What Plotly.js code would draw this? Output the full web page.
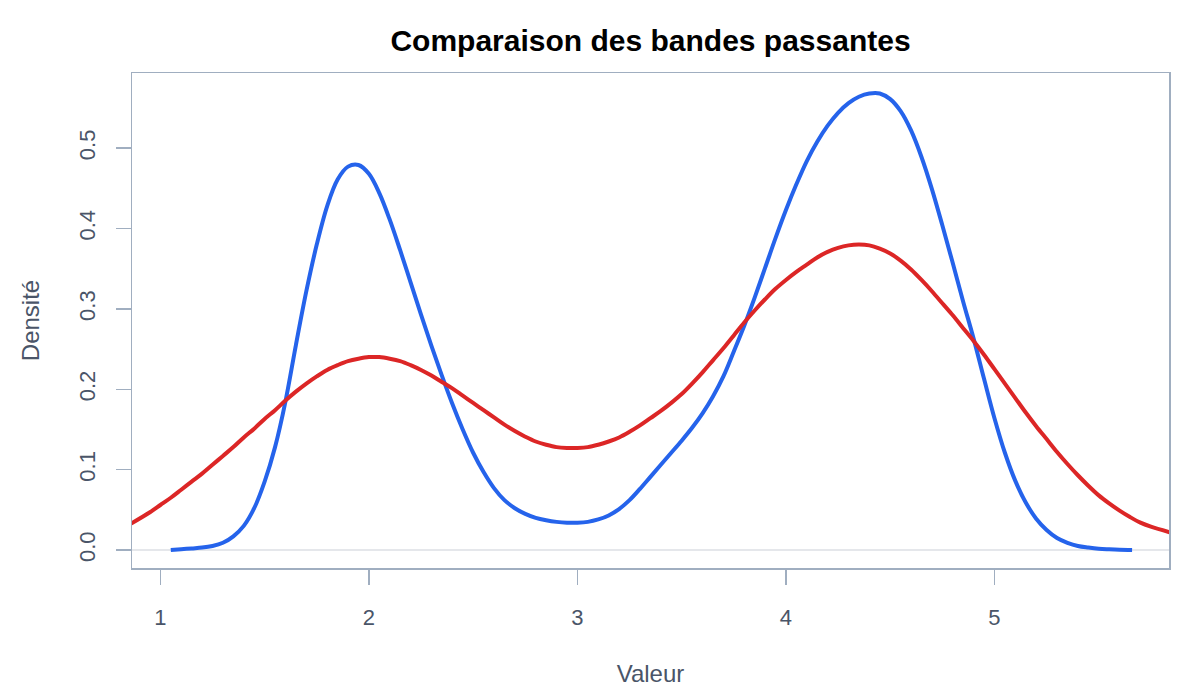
<!DOCTYPE html>
<html>
<head>
<meta charset="utf-8">
<script src="https://cdn.plot.ly/plotly-3.0.1.min.js"></script>
<style>html,body{margin:0;padding:0;background:#fff;}#chart{width:1200px;height:700px;}</style>
</head>
<body>
<div id="chart"></div>
<script>
// Blue curve: narrow bandwidth
const xNarrow = [1.05,1.10,1.15,1.20,1.25,1.30,1.35,1.40,1.45,1.50,1.55,1.60,1.65,1.70,1.75,1.80,1.85,1.90,1.95,2.00,2.05,2.10,2.15,2.20,2.25,2.30,2.35,2.40,2.45,2.50,2.55,2.60,2.65,2.70,2.75,2.80,2.85,2.90,2.95,3.00,3.05,3.10,3.15,3.20,3.25,3.30,3.35,3.40,3.45,3.50,3.55,3.60,3.65,3.70,3.75,3.80,3.85,3.90,3.95,4.00,4.05,4.10,4.15,4.20,4.25,4.30,4.35,4.40,4.45,4.50,4.55,4.60,4.65,4.70,4.75,4.80,4.85,4.90,4.95,5.00,5.05,5.10,5.15,5.20,5.25,5.30,5.35,5.40,5.45,5.50,5.55,5.60,5.66];
const yNarrow = [0.000,0.001,0.002,0.003,0.005,0.009,0.017,0.030,0.052,0.085,0.128,0.185,0.255,0.322,0.380,0.428,0.461,0.477,0.479,0.468,0.444,0.411,0.373,0.333,0.293,0.254,0.217,0.182,0.150,0.121,0.097,0.077,0.062,0.052,0.045,0.040,0.037,0.035,0.034,0.034,0.035,0.038,0.043,0.051,0.062,0.076,0.091,0.106,0.121,0.136,0.152,0.170,0.191,0.216,0.247,0.279,0.314,0.351,0.388,0.423,0.455,0.484,0.508,0.528,0.544,0.556,0.564,0.568,0.568,0.561,0.546,0.522,0.489,0.449,0.404,0.357,0.309,0.263,0.213,0.164,0.121,0.086,0.059,0.039,0.025,0.015,0.009,0.005,0.003,0.0015,0.0008,0.0003,0.000];
// Red curve: wide bandwidth
const xWide = [0.86,0.95,1.00,1.05,1.10,1.15,1.20,1.25,1.30,1.35,1.40,1.45,1.50,1.55,1.60,1.65,1.70,1.75,1.80,1.85,1.90,1.95,2.00,2.05,2.10,2.15,2.20,2.25,2.30,2.35,2.40,2.45,2.50,2.55,2.60,2.65,2.70,2.75,2.80,2.85,2.90,2.95,3.00,3.05,3.10,3.15,3.20,3.25,3.30,3.35,3.40,3.45,3.50,3.55,3.60,3.65,3.70,3.75,3.80,3.85,3.90,3.95,4.00,4.05,4.10,4.15,4.20,4.25,4.30,4.35,4.40,4.45,4.50,4.55,4.60,4.65,4.70,4.75,4.80,4.85,4.90,4.95,5.00,5.05,5.10,5.15,5.20,5.25,5.30,5.35,5.40,5.45,5.50,5.55,5.60,5.65,5.70,5.75,5.84];
const yWide = [0.033,0.047,0.056,0.065,0.075,0.085,0.095,0.106,0.117,0.128,0.140,0.151,0.163,0.174,0.186,0.197,0.207,0.216,0.224,0.230,0.235,0.238,0.240,0.240,0.238,0.235,0.230,0.224,0.217,0.209,0.201,0.192,0.183,0.174,0.165,0.156,0.148,0.141,0.135,0.131,0.128,0.127,0.127,0.128,0.131,0.135,0.140,0.147,0.155,0.164,0.173,0.183,0.194,0.207,0.221,0.236,0.251,0.267,0.283,0.298,0.312,0.325,0.336,0.346,0.355,0.364,0.371,0.376,0.379,0.380,0.379,0.375,0.369,0.360,0.349,0.336,0.322,0.307,0.292,0.276,0.260,0.243,0.225,0.207,0.189,0.171,0.154,0.138,0.122,0.107,0.093,0.080,0.068,0.058,0.049,0.041,0.034,0.029,0.022];
const xTicks = [1,2,3,4,5];
const yTicks = [0.0,0.1,0.2,0.3,0.4,0.5];
const yTickText = ["0.0","0.1","0.2","0.3","0.4","0.5"];

const axisColor = '#a0aec0';
const textColor = '#4a5568';
const fontFam = 'Liberation Sans, Arial, Helvetica, sans-serif';

const traces = [
  {x: xNarrow, y: yNarrow, type: 'scatter', mode: 'lines', name: 'narrow',
   line: {color: '#2563eb', width: 4, shape: 'spline', smoothing: 1}},
  {x: xWide, y: yWide, type: 'scatter', mode: 'lines', name: 'wide',
   line: {color: '#dc2626', width: 4, shape: 'spline', smoothing: 1}}
];

const layout = {
  width: 1200, height: 700,
  paper_bgcolor: '#ffffff', plot_bgcolor: '#ffffff',
  showlegend: false,
  margin: {l: 132, r: 31, t: 73, b: 132},
  font: {family: fontFam, color: textColor},
  title: {text: '<b>Comparaison des bandes passantes</b>', font: {size: 30, color: '#000000', family: fontFam},
          x: 0.5, xref: 'paper', y: 1 - 40/700, yref: 'container', yanchor: 'middle'},
  xaxis: {
    range: [0.864, 5.837], tickvals: xTicks, ticktext: xTicks.map(String),
    showgrid: false, zeroline: false,
    showline: true, mirror: true, linecolor: axisColor, linewidth: 1.5,
    ticks: 'outside', ticklen: 15, tickcolor: axisColor, tickwidth: 1.5,
    tickfont: {size: 22, color: textColor}, ticklabelstandoff: 14,
    title: {text: 'Valeur', font: {size: 24, color: textColor}, standoff: 36},
    automargin: false
  },
  yaxis: {
    range: [-0.0224, 0.5935], tickvals: yTicks, ticktext: yTickText,
    showgrid: false, zeroline: true, zerolinecolor: '#e5e7eb', zerolinewidth: 1.5,
    showline: true, mirror: true, linecolor: axisColor, linewidth: 1.5,
    ticks: 'outside', ticklen: 15, tickcolor: axisColor, tickwidth: 1.5,
    tickangle: -90, tickfont: {size: 22, color: textColor}, ticklabelstandoff: 12,
    title: {text: 'Densité', font: {size: 24, color: textColor}, standoff: 28},
    automargin: false
  }
};

Plotly.newPlot('chart', traces, layout, {displayModeBar: false, staticPlot: true});
</script>
</body>
</html>
